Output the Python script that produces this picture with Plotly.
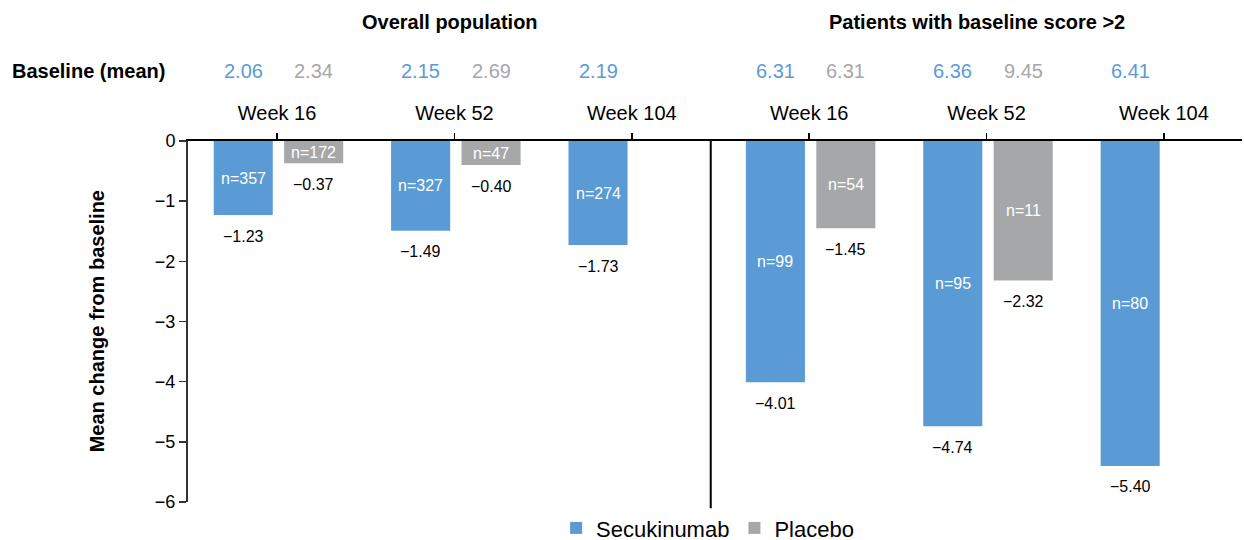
import plotly.graph_objects as go

# ---- data ----
weeks = ["Week 16", "Week 52", "Week 104", "Week 16", "Week 52", "Week 104"]
secukinumab = [-1.23, -1.49, -1.73, -4.01, -4.74, -5.40]
placebo = [-0.37, -0.40, None, -1.45, -2.32, None]
secu_n = ["n=357", "n=327", "n=274", "n=99", "n=95", "n=80"]
plac_n = ["n=172", "n=47", "", "n=54", "n=11", ""]
secu_baseline = ["2.06", "2.15", "2.19", "6.31", "6.36", "6.41"]
plac_baseline = ["2.34", "2.69", "", "6.31", "9.45", ""]
panel_titles = ["Overall population", "Patients with baseline score >2"]

BLUE = "#5B9BD5"
GRAY = "#A6A7A9"
FONT = "Liberation Sans, Arial, sans-serif"

idx = list(range(len(weeks)))
BAR_W = 0.333
BLUE_OFF = -0.357
GRAY_OFF = 0.04
blue_c = BLUE_OFF + BAR_W / 2
gray_c = GRAY_OFF + BAR_W / 2

fig = go.Figure()
fig.add_trace(go.Bar(
    x=idx, y=secukinumab, name="Secukinumab", width=BAR_W, offset=BLUE_OFF,
    marker=dict(color=BLUE, line=dict(width=0)), hoverinfo="skip",
))
fig.add_trace(go.Bar(
    x=idx, y=placebo, name="Placebo", width=BAR_W, offset=GRAY_OFF,
    marker=dict(color=GRAY, line=dict(width=0)), hoverinfo="skip",
))

def fmt(v):
    return f"{v:.2f}".replace("-", "\u2212")

ann = []
for vals, ns, c in [(secukinumab, secu_n, blue_c), (placebo, plac_n, gray_c)]:
    for i, (v, n) in enumerate(zip(vals, ns)):
        if v is None:
            continue
        # value label below the bar end
        ann.append(dict(x=i + c, y=v, xref="x", yref="y", text=fmt(v), showarrow=False,
                        yanchor="middle", yshift=-21,
                        font=dict(size=16, color="black", family=FONT)))
        # n label centred inside the bar
        ann.append(dict(x=i + c, y=v / 2, xref="x", yref="y", text=n, showarrow=False,
                        yanchor="middle",
                        font=dict(size=16, color="white", family=FONT)))
# baseline values
for i, t in enumerate(secu_baseline):
    ann.append(dict(x=i + blue_c, y=1.194, xref="x", yref="paper", text=t, showarrow=False,
                    yanchor="middle", font=dict(size=20, color=BLUE, family=FONT)))
for i, t in enumerate(plac_baseline):
    if not t:
        continue
    ann.append(dict(x=i + gray_c, y=1.194, xref="x", yref="paper", text=t, showarrow=False,
                    yanchor="middle", font=dict(size=20, color=GRAY, family=FONT)))
# row label
ann.append(dict(x=-0.169, y=1.194, xref="paper", yref="paper", text="<b>Baseline (mean)</b>",
                showarrow=False, xanchor="left", yanchor="middle",
                font=dict(size=20, color="black", family=FONT)))
# panel titles
for xpos, t in zip([0.975, 3.946], panel_titles):
    ann.append(dict(x=xpos, y=1.33, xref="x", yref="paper", text=f"<b>{t}</b>", showarrow=False,
                    yanchor="middle", font=dict(size=20, color="black", family=FONT)))
# y-axis title
ann.append(dict(x=-0.0865, y=0.5, xref="paper", yref="paper", text="<b>Mean change from baseline</b>",
                showarrow=False, textangle=-90, xanchor="center", yanchor="middle",
                font=dict(size=20, color="black", family=FONT)))

fig.update_layout(
    width=1244, height=540,
    margin=dict(l=188, r=2, t=141, b=38, autoexpand=False),
    paper_bgcolor="white", plot_bgcolor="white",
    barmode="overlay",
    font=dict(family=FONT, color="black"),
    annotations=ann,
    shapes=[dict(type="line", xref="x", yref="paper", x0=2.445, x1=2.445, y0=1, y1=-0.017,
                 line=dict(color="black", width=2))],
    legend=dict(orientation="h", x=0.493, xanchor="center", yref="container", y=0.022,
                yanchor="middle", font=dict(size=22, family=FONT, color="black"),
                bgcolor="rgba(0,0,0,0)"),
    xaxis=dict(
        type="linear", range=[-0.502, 5.44], tickvals=idx, ticktext=weeks,
        side="top", ticks="outside", ticklen=6, tickwidth=1.5, tickcolor="black",
        showline=True, linecolor="black", linewidth=2, showgrid=False, zeroline=False,
        tickfont=dict(size=20, family=FONT, color="black"), ticklabelstandoff=5,
        automargin=False,
    ),
    yaxis=dict(
        range=[-6, 0], dtick=1, ticks="outside", ticklen=7, tickwidth=1.5, tickcolor="#333",
        showline=True, linecolor="#333", linewidth=2, showgrid=False, zeroline=False,
        tickfont=dict(size=18, family=FONT, color="black"), automargin=False,
    ),
)

fig.write_html(
    "out.html",
    config={"displayModeBar": False, "staticPlot": True},
    post_script="document.body.style.margin='0';document.body.style.overflow='hidden';",
)
